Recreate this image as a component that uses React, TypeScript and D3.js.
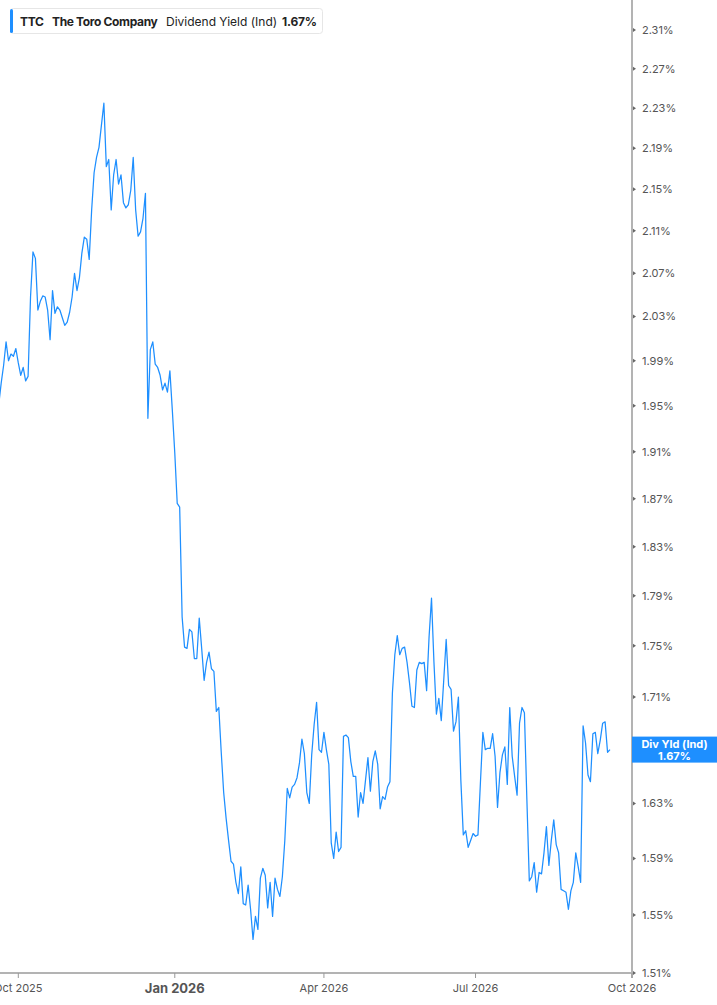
import React from 'react';
import * as d3 from 'd3';

// Dividend yield (%), one value per trading day starting 2025-09-19
const YIELD_VALUES = [
  1.951, 1.970, 1.986, 2.007, 1.990, 1.996, 1.994, 2.001, 1.988, 1.977,
  1.984, 1.972, 1.976, 2.048, 2.090, 2.084, 2.036, 2.044, 2.049, 2.048,
  2.036, 2.009, 2.054, 2.033, 2.039, 2.036, 2.029, 2.022, 2.025, 2.034,
  2.048, 2.070, 2.054, 2.066, 2.089, 2.104, 2.102, 2.083, 2.130, 2.166,
  2.181, 2.191, 2.213, 2.235, 2.172, 2.179, 2.130, 2.164, 2.179, 2.155,
  2.164, 2.137, 2.132, 2.135, 2.149, 2.181, 2.130, 2.105, 2.109, 2.122,
  2.146, 1.939, 2.000, 2.007, 1.987, 1.984, 1.977, 1.964, 1.970, 1.962,
  1.981, 1.946, 1.909, 1.866, 1.863, 1.773, 1.749, 1.748, 1.763, 1.761,
  1.740, 1.740, 1.772, 1.748, 1.723, 1.737, 1.745, 1.732, 1.730, 1.699,
  1.702, 1.668, 1.638, 1.619, 1.603, 1.588, 1.586, 1.573, 1.565, 1.584,
  1.558, 1.557, 1.571, 1.554, 1.533, 1.549, 1.540, 1.576, 1.583, 1.578,
  1.555, 1.573, 1.549, 1.576, 1.568, 1.563, 1.577, 1.603, 1.641, 1.634,
  1.642, 1.644, 1.649, 1.660, 1.678, 1.667, 1.638, 1.630, 1.666, 1.689,
  1.706, 1.670, 1.668, 1.683, 1.670, 1.659, 1.601, 1.590, 1.609, 1.595,
  1.598, 1.680, 1.681, 1.679, 1.661, 1.650, 1.650, 1.620, 1.638, 1.630,
  1.647, 1.664, 1.639, 1.661, 1.669, 1.659, 1.626, 1.635, 1.633, 1.642,
  1.646, 1.713, 1.743, 1.758, 1.743, 1.748, 1.749, 1.737, 1.721, 1.703,
  1.702, 1.731, 1.737, 1.736, 1.737, 1.715, 1.757, 1.788, 1.737, 1.697,
  1.709, 1.692, 1.723, 1.755, 1.719, 1.716, 1.684, 1.691, 1.710, 1.647,
  1.607, 1.610, 1.598, 1.603, 1.608, 1.606, 1.607, 1.645, 1.683, 1.670,
  1.671, 1.671, 1.682, 1.665, 1.627, 1.653, 1.666, 1.672, 1.644, 1.702,
  1.665, 1.650, 1.636, 1.690, 1.702, 1.698, 1.633, 1.574, 1.577, 1.587,
  1.566, 1.580, 1.579, 1.594, 1.613, 1.585, 1.603, 1.618, 1.600, 1.594,
  1.568, 1.567, 1.566, 1.554, 1.567, 1.573, 1.594, 1.584, 1.573, 1.688,
  1.675, 1.651, 1.646, 1.682, 1.683, 1.667, 1.677, 1.690, 1.691, 1.668,
  1.670,
];

const START_DATE = '2025-09-19';
const AXIS_END_DATE = '2026-10-01';
const MARKET_HOLIDAYS = [
  '2025-11-27', '2025-12-25', '2026-01-01', '2026-01-19', '2026-02-16',
  '2026-04-03', '2026-05-25', '2026-06-19', '2026-07-03', '2026-09-07',
];

const Y_TICKS = [
  1.51, 1.55, 1.59, 1.63, 1.67, 1.71, 1.75, 1.79, 1.83, 1.87, 1.91,
  1.95, 1.99, 2.03, 2.07, 2.11, 2.15, 2.19, 2.23, 2.27, 2.31,
];
const QUARTER_MONTHS = [0, 3, 6, 9];

const TICKER = 'TTC';
const COMPANY = 'The Toro Company';
const METRIC = 'Dividend Yield (Ind)';
const LAST_LABEL = 'Div Yld (Ind)';

const W = 717;
const H = 1005;
const PLOT_RIGHT = 632;
const PLOT_BOTTOM = 973;
const TAG_HALF = 13;
const BLUE = '#1e8fff';
const FONT = 'Inter, "Noto Sans", sans-serif';

const parse = d3.utcParse('%Y-%m-%d');
const fmtDay = d3.utcFormat('%Y-%m-%d');

// trading days: weekdays minus market holidays
const tradingDays = (): Date[] => {
  const out: Date[] = [];
  const end = parse(AXIS_END_DATE)!;
  for (let d = parse(START_DATE)!; d <= end; d = d3.utcDay.offset(d, 1)) {
    const wd = d.getUTCDay();
    if (wd === 0 || wd === 6) continue;
    if (MARKET_HOLIDAYS.includes(fmtDay(d))) continue;
    out.push(d);
  }
  return out;
};

const App: React.FC = () => {
  const days = tradingDays();
  const data = YIELD_VALUES.map((v, i) => ({ i, date: days[i], v }));

  // x is linear in trading-day index (weekends/holidays collapsed)
  const x = d3.scaleLinear().domain([8, days.length - 1]).range([18.3, PLOT_RIGHT]);
  const y = d3.scaleLog().domain([1.51, 2.31]).range([PLOT_BOTTOM, 30]);

  const line = d3.line<{ i: number; v: number }>()
    .x(d => x(d.i))
    .y(d => y(d.v));

  const xTicks = days
    .map((d, i) => ({ d, i }))
    .filter(({ d, i }) => i > 0
      && d.getUTCMonth() !== days[i - 1].getUTCMonth()
      && QUARTER_MONTHS.includes(d.getUTCMonth()));

  const last = data[data.length - 1];
  const lastY = y(last.v);

  return (
    <div style={{ position: 'absolute', left: 0, top: 0 }}>
      <svg width={W} height={H} style={{ display: 'block', background: '#fff' }} fontFamily={FONT}>
        <defs>
          <clipPath id="plot">
            <rect x={0} y={0} width={PLOT_RIGHT} height={PLOT_BOTTOM} />
          </clipPath>
        </defs>

        <path d={line(data) || ''} fill="none" stroke={BLUE} strokeWidth={1.25}
          strokeLinejoin="round" clipPath="url(#plot)" />

        {/* right axis */}
        <line x1={PLOT_RIGHT} x2={PLOT_RIGHT} y1={0} y2={PLOT_BOTTOM + 5} stroke="#b3b3b3" strokeWidth={2} />
        {Y_TICKS.map(t => {
          const hidden = Math.abs(y(t) - lastY) < TAG_HALF;
          return (
            <g key={t} transform={`translate(${PLOT_RIGHT + 1},${y(t)})`}>
              <path d="M0,-2L3,0L0,2Z" fill="#666" />
              {!hidden && (
                <text x={9} dy="0.35em" fontSize={11} fill="#555">{`${t.toFixed(2)}%`}</text>
              )}
            </g>
          );
        })}

        {/* bottom axis */}
        <line x1={0} x2={PLOT_RIGHT} y1={PLOT_BOTTOM} y2={PLOT_BOTTOM} stroke="#b3b3b3" strokeWidth={2} />
        {xTicks.map(({ d, i }) => {
          const isYear = d.getUTCMonth() === 0;
          return (
            <g key={i} transform={`translate(${x(i)},${PLOT_BOTTOM})`}>
              <line y1={0} y2={5} stroke="#999" />
              <text y={isYear ? 20 : 19} textAnchor="middle" fontSize={isYear ? 13 : 11}
                fontWeight={isYear ? 700 : 400} fill="#555">
                {d3.utcFormat('%b %Y')(d)}
              </text>
            </g>
          );
        })}

        {/* last value tag */}
        <g transform={`translate(${PLOT_RIGHT},${lastY})`}>
          <rect x={0} y={-TAG_HALF} width={W - PLOT_RIGHT} height={TAG_HALF * 2} fill={BLUE} />
          <text x={(W - PLOT_RIGHT) / 2} y={-2} textAnchor="middle" fontSize={11} fontWeight={700} fill="#fff">
            {LAST_LABEL}
          </text>
          <text x={(W - PLOT_RIGHT) / 2} y={10} textAnchor="middle" fontSize={11} fontWeight={700} fill="#fff">
            {`${last.v.toFixed(2)}%`}
          </text>
        </g>

        {/* legend */}
        <g>
          <rect x={10.5} y={8.5} width={312} height={25} rx={3} fill="#fff" stroke="#e6e6e6" />
          <rect x={10} y={9} width={3} height={24} rx={1.5} fill={BLUE} />
          <text y={26} fontSize={12} fill="#222">
            <tspan x={20} fontWeight={700} letterSpacing={-0.3}>{TICKER}</tspan>
            <tspan x={52} fontWeight={700} letterSpacing={-0.35}>{COMPANY}</tspan>
            <tspan x={166}>{METRIC}</tspan>
            <tspan x={282} fontWeight={700} letterSpacing={-0.2}>{`${last.v.toFixed(2)}%`}</tspan>
          </text>
        </g>
      </svg>
    </div>
  );
};

export default App;
